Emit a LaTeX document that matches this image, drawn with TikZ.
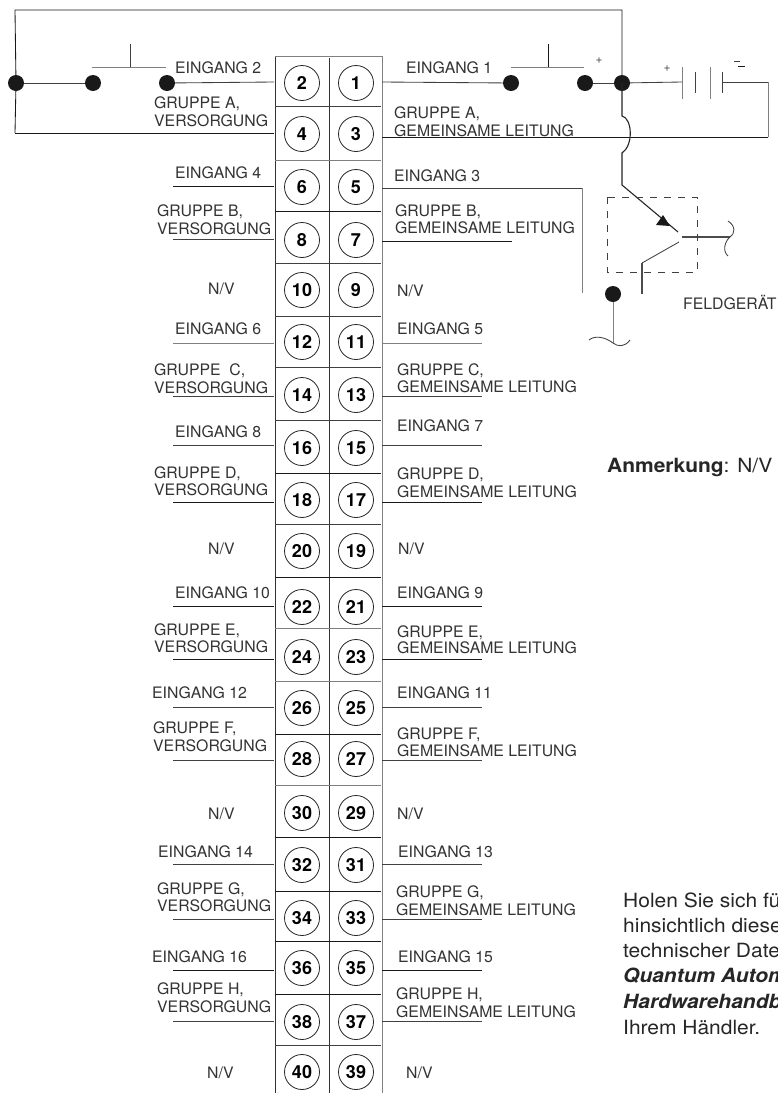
\documentclass[tikz,border=0pt]{standalone}
\usepackage{fontspec}
\setmainfont{TeX Gyre Heros}
\newcommand{\wider}[1]{\scalebox{1.07}[1]{#1}}
\begin{document}
\begin{tikzpicture}[x=1pt,y=-1pt,
  wire/.style={line width=0.85pt,black!75},
  wiredark/.style={line width=1pt,black!90},
  wiregray/.style={line width=0.85pt,black!50},
  grid/.style={line width=0.9pt,black!80},
  term/.style={circle,draw=black!85,line width=0.8pt,minimum size=35pt,inner sep=0pt,font=\fontsize{18}{18}\selectfont\bfseries},
  lab/.style={anchor=base west,inner sep=0pt,font=\fontsize{15.8}{16}\selectfont,text=black!80},
  dot/.style={circle,fill=black!90,minimum size=16pt,inner sep=0pt},
  note/.style={anchor=base west,inner sep=0pt,font=\fontsize{19.6}{20}\selectfont,text=black!85}]
\useasboundingbox (0,0) rectangle (778,1093);
\clip (0,0) rectangle (778,1093);
\fill[white] (0,0) rectangle (778,1093);
% terminal strip
\coordinate (gt1) at (275,56); \coordinate (gb1) at (275,1093);
\coordinate (gt2) at (329,58); \coordinate (gb2) at (329,1093);
\coordinate (gt3) at (382,56); \coordinate (gb3) at (382,1093);
\draw[grid] (gt1)--(gb1); \draw[grid] (gt2)--(gb2); \draw[wiregray] (gt3)--(gb3);
\draw[wiregray] (gt1)--(gt3);
\foreach \s/\y/\k in {a/106/wire,b/160/wiregray,c/211/wiredark,d/263/wire,e/316/wire,f/367/wire,g/420/wire,h/473/wiredark,i/524/wire,j/577/wiredark,k/628/wiregray,l/681/wiregray,m/734/wiredark,n/785/wiregray,o/837/wiredark,p/891/wiredark,q/941/wiredark,r/994/wiredark,s/1045/wire}{
  \coordinate (sl\s) at (275,\y); \coordinate (sr\s) at (381,\y);
  \draw[\k] (sl\s)--(sr\s);
}
% terminals with the wires of the lower rows
\foreach \n/\y in {1/83,3/134,5/187,7/240,9/290,11/342,13/395,15/448,17/500,19/551,21/607,23/657,25/708,27/759,29/813,31/865,33/918,35/968,37/1022,39/1072}{
  \node[term] (t\n) at (356,\y) {\n};
}
\foreach \n/\y in {2/83,4/134,6/187,8/240,10/290,12/342,14/395,16/448,18/500,20/551,22/607,24/657,26/708,28/759,30/813,32/865,34/918,36/968,38/1022,40/1072}{
  \node[term] (t\n) at (302,\y) {\n};
}
\foreach \n/\y/\k in {6/186/wiredark,8/239/wire,12/343/wiregray,14/396/wire,16/445/wire,18/502/wiredark,22/606/wiredark,24/659/wiredark,26/707/wire,28/760/wire,32/864/wire,34/919/wire,36/970/wiredark,38/1021/wire}{
  \coordinate (wa\n) at (173,\y); \coordinate (wb\n) at (274,\y);
  \draw[\k] (wa\n)--(wb\n);
}
\foreach \n/\y/\k in {7/241/wiredark,11/343/wiregray,13/396/wire,15/445/wire,17/502/wiredark,21/606/wiredark,23/659/wiredark,25/707/wire,27/760/wire,31/864/wire,33/919/wire,35/970/wiredark,37/1021/wire}{
  \coordinate (wa\n) at (382,\y); \coordinate (wb\n) at (482,\y);
}
\foreach \n/\k in {11/wiregray,13/wire,15/wire,17/wiredark,21/wiredark,23/wiredark,25/wire,27/wire,31/wire,33/wire,35/wiredark,37/wire}{
  \draw[\k] (wa\n)--(wb\n);
}
\coordinate (wb7) at (512,241); \draw[wiredark] (wa7)--(wb7);
% labels
\foreach \i/\x/\y/\t in {
 1/175/73/{EINGANG 2},2/154/108/{GRUPPE A,},3/154/126/{VERSORGUNG},4/175/178/{EINGANG 4},
 5/157/216/{GRUPPE B,},6/157/234/{VERSORGUNG},7/208/294/{N/V},8/175/334/{EINGANG 6},
 9/154/375/{GRUPPE\ \ C,},10/154/393/{VERSORGUNG},11/175/437/{EINGANG 8},12/154/478/{GRUPPE D,},
 13/154/495/{VERSORGUNG},14/208/554/{N/V},15/175/598/{EINGANG 10},16/154/635/{GRUPPE E,},
 17/154/652/{VERSORGUNG},18/152/698/{EINGANG 12},19/153/733/{GRUPPE F,},20/153/751/{VERSORGUNG},
 21/208/819/{N/V},22/158/857/{EINGANG 14},23/157/894/{GRUPPE G,},24/157/911/{VERSORGUNG},
 25/152/962/{EINGANG 16},26/157/994/{GRUPPE H,},27/157/1012/{VERSORGUNG},28/207/1078/{N/V},
 29/406/73/{EINGANG 1},30/394/118/{GRUPPE A,},31/394/136/{GEMEINSAME LEITUNG},32/394/181/{EINGANG 3},
 33/395/216/{GRUPPE B,},34/395/233/{GEMEINSAME LEITUNG},35/397/296/{N/V},36/397/334/{EINGANG 5},
 37/397/375/{GRUPPE C,},38/397/392/{GEMEINSAME LEITUNG},39/397/431/{EINGANG 7},40/397/479/{GRUPPE D,},
 41/397/497/{GEMEINSAME LEITUNG},42/398/554/{N/V},43/397/598/{EINGANG 9},44/397/637/{GRUPPE E,},
 45/397/653/{GEMEINSAME LEITUNG},46/397/698/{EINGANG 11},47/397/739/{GRUPPE F,},48/397/756/{GEMEINSAME LEITUNG},
 49/397/819/{N/V},50/398/857/{EINGANG 13},51/396/897/{GRUPPE G,},52/396/915/{GEMEINSAME LEITUNG},
 53/398/962/{EINGANG 15},54/396/999/{GRUPPE H,},55/396/1017/{GEMEINSAME LEITUNG},56/406/1078/{N/V},
 57/683/309/{FELDGERÄT}}{
  \node[lab] (lab\i) at (\x,\y) {\t};
}
% top circuit
\node[dot] (d1) at (16,83) {};
\node[dot] (d2) at (93,83) {};
\node[dot] (d3) at (167,83) {};
\node[dot] (d4) at (511,83) {};
\node[dot] (d5) at (585,83) {};
\node[dot] (d6) at (622,83) {};
\coordinate (c4) at (274,133);
\coordinate (cbl) at (15,133);
\coordinate (ctl) at (15,10);
\coordinate (ctr) at (622,10);
\coordinate (w2) at (274,82);
\coordinate (w1) at (382,82);
\draw[wire,black!90] (cbl)--(c4);
\draw[wire,black!90] (d1.center)--(cbl);
\draw[wire,black!90] (d1.center)--(ctl)--(ctr)--(d6.center);
\draw[wire] (d1)--(d2);
\draw[wire] (d3)--(w2);
\draw[wire] (w1)--(d4);
\draw[wire] (d5)--(d6);
% switches
\coordinate (sa1) at (92,67); \coordinate (sa2) at (166,67); \coordinate (sa3) at (130,44); \coordinate (sa4) at (130,67);
\coordinate (sb1) at (511,67); \coordinate (sb2) at (584,67); \coordinate (sb3) at (548,44); \coordinate (sb4) at (548,67);
\draw[wiregray] (sa1)--(sa2); \draw[wire] (sa3)--(sa4);
\draw[wiregray] (sb1)--(sb2); \draw[wiredark] (sb3)--(sb4);
% battery
\coordinate (b1) at (682,82); \coordinate (b2) at (722,82); \coordinate (b3) at (768,82); \coordinate (b4) at (768,137); \coordinate (w3) at (382,137);
\draw[wire] (d6)--(b1); \draw[wire] (b2)--(b3); \draw[wiregray] (b3)--(b4);
\draw[wire,black!90] (b4)--(w3);
\coordinate (p1a) at (682,67); \coordinate (p1b) at (682,99);
\coordinate (p2a) at (695,72); \coordinate (p2b) at (695,93);
\coordinate (p3a) at (710,67); \coordinate (p3b) at (710,99);
\coordinate (p4a) at (722,72); \coordinate (p4b) at (722,93);
\draw[wiregray] (p1a)--(p1b); \draw[wire] (p2a)--(p2b); \draw[wiregray] (p3a)--(p3b); \draw[wire] (p4a)--(p4b);
\node[inner sep=0pt,font=\fontsize{12}{12}\selectfont,text=black!70] (plusa) at (599,61) {+};
\node[inner sep=0pt,font=\fontsize{12}{12}\selectfont,text=black!70] (plusb) at (667,69) {+};
\coordinate (m1a) at (734,61); \coordinate (m1b) at (740,61);
\coordinate (m2a) at (738,66); \coordinate (m2b) at (745,66);
\draw[wire] (m1a)--(m1b); \draw[wiredark] (m2a)--(m2b);
% input 3 wire
\coordinate (w5) at (382,188); \coordinate (w5b) at (582,188); \coordinate (w5c) at (582,293);
\draw[wire] (w5)--(w5b); \draw[wiregray] (w5b)--(w5c);
% field device
\coordinate (j1) at (622,116); \coordinate (j2) at (622,153); \coordinate (j3) at (622,185); \coordinate (j4) at (678,232);
\draw[line width=1.1pt,black!85] (d6.center)--(j1) .. controls (632,118) and (634,145) .. (j2) -- (j3) -- (j4);
\coordinate (ta) at (663,215); \coordinate (tb) at (656,225); \coordinate (tc) at (670,226);
\fill[black!90] (ta)--(tb)--(tc)--cycle;
\coordinate (k1) at (682,237); \coordinate (k2) at (730,237);
\draw[line width=1.2pt,black!70] (k1)--(k2);
\coordinate (k3) at (728,221); \coordinate (k4) at (728,256);
\draw[wire] (k3) .. controls (736,226) and (735,234) .. (k2) .. controls (725,241) and (722,251) .. (k4);
\coordinate (e1) at (679,242); \coordinate (e2) at (642,263); \coordinate (e3) at (642,294);
\draw[wire] (e1)--(e2); \draw[line width=1.1pt,black!70] (e2)--(e3);
\coordinate (bx1) at (607,197); \coordinate (bx2) at (697,272);
\draw[line width=0.85pt,black!75,dash pattern=on 7pt off 7pt] (bx1) rectangle (bx2);
\node[dot] (d7) at (613,294) {};
\coordinate (g1) at (613,343); \coordinate (g2) at (589,340); \coordinate (g3) at (630,340);
\draw[wiregray] (d7)--(g1);
\draw[wire] (g2) .. controls (595,335) and (605,337) .. (g1) .. controls (618,347) and (625,347) .. (g3);
% notes
\node[note] (anm) at (607,472) {\wider{\textbf{Anmerkung}: N/V}};
\node[note] (h1) at (623,907) {\wider{Holen Sie sich fü}};
\node[note] (h2) at (623,932) {\wider{hinsichtlich diese}};
\node[note] (h3) at (623,957) {\wider{technischer Date}};
\node[note] (h4) at (623,982) {\wider{\textbf{\textit{Quantum Autom}}}};
\node[note] (h5) at (623,1008) {\wider{\textbf{\textit{Hardwarehandb}}}};
\node[note] (h6) at (623,1034) {\wider{Ihrem Händler.}};
\end{tikzpicture}
\end{document}
